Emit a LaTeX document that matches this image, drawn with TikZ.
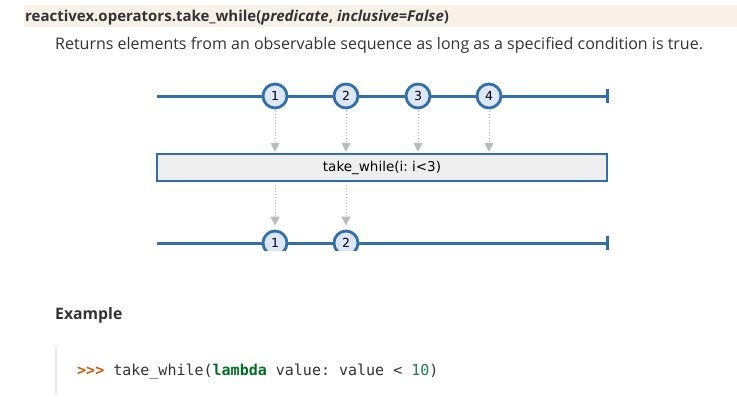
\documentclass[tikz,border=0pt]{standalone}
\usepackage{fontspec}
\setmainfont{Open Sans}
\newfontfamily\dvs{DejaVu Sans}
\newfontfamily\dvm{DejaVu Sans Mono}
\usetikzlibrary{arrows.meta}
\definecolor{hdrbg}{RGB}{249,241,231}
\definecolor{txt}{RGB}{51,51,51}
\definecolor{mblue}{RGB}{49,110,172}
\definecolor{mfill}{RGB}{221,231,250}
\definecolor{boxfill}{RGB}{238,238,238}
\definecolor{arrgrey}{RGB}{187,187,187}
\definecolor{prompt}{RGB}{198,93,9}
\definecolor{kw}{RGB}{0,112,32}
\definecolor{num}{RGB}{32,128,80}
\definecolor{codebar}{RGB}{232,232,232}
\tikzset{
  marble/.style={circle, draw=mblue, fill=mfill, line width=2.8bp, minimum size=24bp, inner sep=0pt, font=\dvs\fontsize{12.5bp}{14bp}\selectfont, text=black},
  timeline/.style={draw=mblue, line width=3bp},
  opbox/.style={draw=mblue, fill=boxfill, line width=2.5bp, minimum width=450bp, minimum height=27bp, inner sep=0pt, font=\dvs\fontsize{13.5bp}{15bp}\selectfont, text=black},
  flow/.style={draw=arrgrey, line width=1bp, dotted, -{Triangle[width=9bp,length=9bp]}},
  txtnode/.style={anchor=base west, inner sep=0pt, text=txt},
}
\begin{document}
\frenchspacing
\begin{tikzpicture}[x=1bp,y=-1bp]
\useasboundingbox (0,0) rectangle (737,402);
% header
\fill[hdrbg] (24,5) rectangle (737,27);
\node[txtnode, font=\bfseries\fontsize{15bp}{16bp}\selectfont] (title) at (25,21)
  {reactivex.operators.take\_while(\textit{predicate}, \textit{inclusive=False})};
\node[txtnode, font=\fontsize{16bp}{17bp}\selectfont] (desc) at (55,49)
  {Returns elements from an observable sequence as long as a specified condition is true.};
% diagram
\begin{scope}
\clip (140,78) rectangle (630,250);
\coordinate (ts) at (157,96);
\coordinate (te) at (607,96);
\coordinate (bs) at (157,243);
\coordinate (be) at (607,243);
\draw[timeline] (ts) -- (te);
\draw[timeline] ([yshift=-7bp]te) -- ([yshift=7bp]te);
\draw[timeline] (bs) -- (be);
\draw[timeline] ([yshift=-7bp]be) -- ([yshift=7bp]be);
\node[marble] (t1) at (275,96) {1};
\node[marble] (t2) at (346,96) {2};
\node[marble] (t3) at (418,96) {3};
\node[marble] (t4) at (489,96) {4};
\node[opbox] (op) at (382,167.5) {take\_while(i: i<3)};
\node[marble] (b1) at (275,243) {1};
\node[marble] (b2) at (346,243) {2};
\foreach \m in {t1,t2,t3,t4}{
  \draw[flow, shorten <=2bp, shorten >=1bp] (\m) -- (\m |- op.north);
}
\foreach \m in {b1,b2}{
  \draw[flow, shorten <=3bp, shorten >=4bp] (op.south -| \m) -- (\m);
}
\end{scope}
% example
\node[txtnode, font=\bfseries\fontsize{15.8bp}{17bp}\selectfont] (ex) at (55,319) {Example};
\draw[codebar, line width=2bp, line cap=round] (56,347) -- (56,394);
\node[txtnode, font=\dvm\fontsize{15bp}{17bp}\selectfont] (code) at (77,375)
  {\textcolor{prompt}{\bfseries >{}>{}>} take\_while(\textcolor{kw}{\bfseries lambda} value: value < \textcolor{num}{10})};
\end{tikzpicture}
\end{document}
